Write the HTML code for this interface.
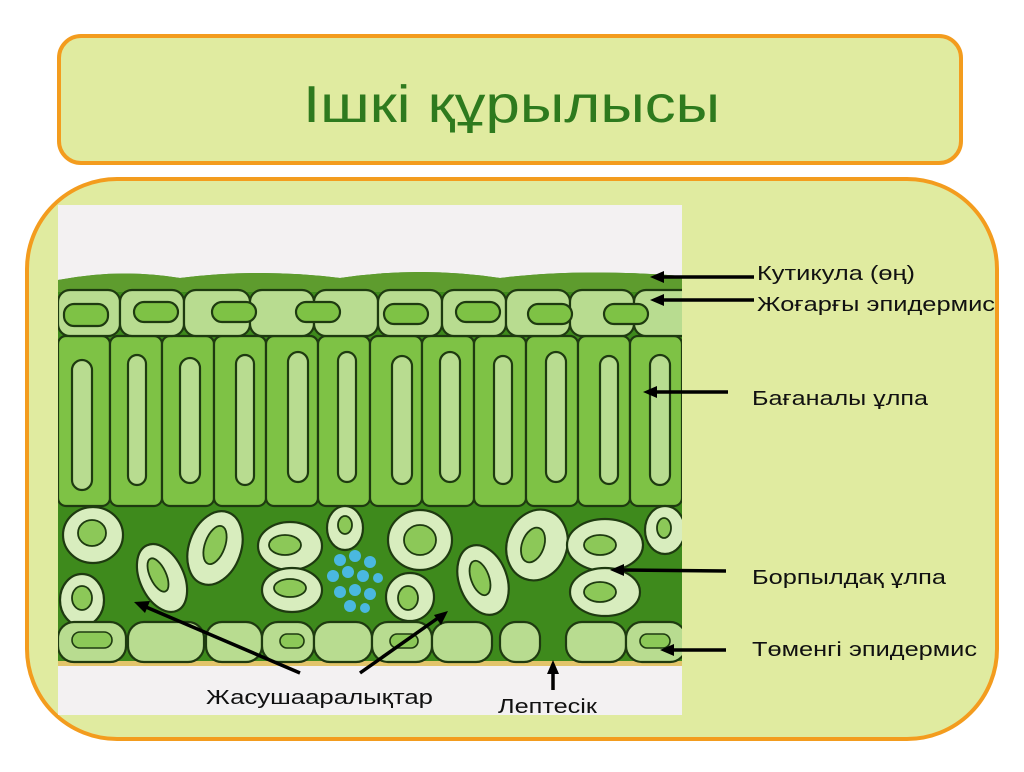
<!DOCTYPE html>
<html><head><meta charset="utf-8"><style>
body{margin:0;background:#fff;width:1024px;height:767px;overflow:hidden}
text{font-family:"Liberation Sans",sans-serif}
</style></head><body>
<svg width="1024" height="767" viewBox="0 0 1024 767" xmlns="http://www.w3.org/2000/svg">
<rect x="0" y="0" width="1024" height="767" fill="#fff"/>
<rect x="59" y="36" width="902" height="127" rx="22" fill="#e0eba0" stroke="#f39c1e" stroke-width="4"/>
<text x="303" y="122" font-size="52" fill="#2e7a1e" textLength="417" lengthAdjust="spacingAndGlyphs">Ішкі құрылысы</text>
<rect x="27" y="179" width="970" height="560" rx="90" fill="#e0eba0" stroke="#f39c1e" stroke-width="4"/>
<rect x="58" y="205" width="624" height="510" fill="#f3f1f2"/>
<clipPath id="c"><rect x="58" y="205" width="624" height="510"/></clipPath>
<g clip-path="url(#c)" stroke="#1e3a10" stroke-width="2.2">
<path d="M58 280 Q120 268 180 278 Q260 268 340 278 Q420 266 500 278 Q580 268 682 276 L682 664 L58 664 Z" fill="#3e8a1c" stroke="none"/>
<rect x="58" y="661" width="624" height="5" fill="#e2c46a" stroke="none"/>
<path d="M58 280 Q120 268 180 278 Q260 268 340 278 Q420 266 500 278 Q580 268 682 276 L682 292 L58 292 Z" fill="#5e9c2e" stroke="none"/>
<g fill="#7ec245">
<rect x="58" y="336" width="52" height="170" rx="8"/><rect x="110" y="336" width="52" height="170" rx="8"/><rect x="162" y="336" width="52" height="170" rx="8"/><rect x="214" y="336" width="52" height="170" rx="8"/><rect x="266" y="336" width="52" height="170" rx="8"/><rect x="318" y="336" width="52" height="170" rx="8"/><rect x="370" y="336" width="52" height="170" rx="8"/><rect x="422" y="336" width="52" height="170" rx="8"/><rect x="474" y="336" width="52" height="170" rx="8"/><rect x="526" y="336" width="52" height="170" rx="8"/><rect x="578" y="336" width="52" height="170" rx="8"/><rect x="630" y="336" width="52" height="170" rx="8"/>
</g>
<g fill="#b8dc90">
<rect x="72" y="360" width="20" height="130" rx="10"/><rect x="128" y="355" width="18" height="130" rx="9"/><rect x="180" y="358" width="20" height="125" rx="10"/><rect x="236" y="355" width="18" height="130" rx="9"/><rect x="288" y="352" width="20" height="130" rx="10"/><rect x="338" y="352" width="18" height="130" rx="9"/><rect x="392" y="356" width="20" height="128" rx="10"/><rect x="440" y="352" width="20" height="130" rx="10"/><rect x="494" y="356" width="18" height="128" rx="9"/><rect x="546" y="352" width="20" height="130" rx="10"/><rect x="600" y="356" width="18" height="128" rx="9"/><rect x="650" y="355" width="20" height="130" rx="10"/>
</g>
<g fill="#b8dc90">
<rect x="58" y="290" width="62" height="46" rx="12"/><rect x="120" y="290" width="64" height="46" rx="12"/><rect x="184" y="290" width="66" height="46" rx="12"/><rect x="250" y="290" width="64" height="46" rx="12"/><rect x="314" y="290" width="64" height="46" rx="12"/><rect x="378" y="290" width="64" height="46" rx="12"/><rect x="442" y="290" width="64" height="46" rx="12"/><rect x="506" y="290" width="64" height="46" rx="12"/><rect x="570" y="290" width="64" height="46" rx="12"/><rect x="634" y="290" width="60" height="46" rx="12"/>
</g>
<g fill="#7ec245">
<rect x="64" y="304" width="44" height="22" rx="10"/><rect x="134" y="302" width="44" height="20" rx="10"/><rect x="212" y="302" width="44" height="20" rx="10"/><rect x="296" y="302" width="44" height="20" rx="10"/><rect x="384" y="304" width="44" height="20" rx="10"/><rect x="456" y="302" width="44" height="20" rx="10"/><rect x="528" y="304" width="44" height="20" rx="10"/><rect x="604" y="304" width="44" height="20" rx="10"/>
</g>
<g fill="#d8edbe">
<ellipse cx="93" cy="535" rx="30" ry="28"/><ellipse cx="82" cy="600" rx="22" ry="26"/><ellipse cx="162" cy="578" rx="22" ry="36" transform="rotate(-25 162 578)"/><ellipse cx="215" cy="548" rx="26" ry="38" transform="rotate(20 215 548)"/><ellipse cx="290" cy="546" rx="32" ry="24"/><ellipse cx="292" cy="590" rx="30" ry="22"/><ellipse cx="345" cy="528" rx="18" ry="22"/><ellipse cx="420" cy="540" rx="32" ry="30"/><ellipse cx="410" cy="597" rx="24" ry="24"/><ellipse cx="483" cy="580" rx="24" ry="36" transform="rotate(-20 483 580)"/><ellipse cx="537" cy="545" rx="30" ry="36" transform="rotate(20 537 545)"/><ellipse cx="605" cy="545" rx="38" ry="26"/><ellipse cx="605" cy="592" rx="35" ry="24"/><ellipse cx="665" cy="530" rx="20" ry="24"/>
</g>
<g fill="#8cc858" stroke-width="1.8">
<ellipse cx="92" cy="533" rx="14" ry="13"/><ellipse cx="82" cy="598" rx="10" ry="12"/><ellipse cx="158" cy="575" rx="8" ry="18" transform="rotate(-25 158 575)"/><ellipse cx="215" cy="545" rx="10" ry="20" transform="rotate(20 215 545)"/><ellipse cx="285" cy="545" rx="16" ry="10"/><ellipse cx="290" cy="588" rx="16" ry="9"/><ellipse cx="345" cy="525" rx="7" ry="9"/><ellipse cx="420" cy="540" rx="16" ry="15"/><ellipse cx="408" cy="598" rx="10" ry="12"/><ellipse cx="480" cy="578" rx="9" ry="18" transform="rotate(-20 480 578)"/><ellipse cx="533" cy="545" rx="11" ry="18" transform="rotate(20 533 545)"/><ellipse cx="600" cy="545" rx="16" ry="10"/><ellipse cx="600" cy="592" rx="16" ry="10"/><ellipse cx="664" cy="528" rx="7" ry="10"/>
</g>
<g fill="#4ab8e0" stroke="none">
<circle cx="340" cy="560" r="6"/><circle cx="355" cy="556" r="6"/><circle cx="370" cy="562" r="6"/><circle cx="333" cy="576" r="6"/><circle cx="348" cy="572" r="6"/><circle cx="363" cy="576" r="6"/><circle cx="378" cy="578" r="5"/><circle cx="340" cy="592" r="6"/><circle cx="355" cy="590" r="6"/><circle cx="370" cy="594" r="6"/><circle cx="350" cy="606" r="6"/><circle cx="365" cy="608" r="5"/>
</g>
<g fill="#b8dc90">
<rect x="58" y="622" width="68" height="40" rx="16"/><rect x="128" y="622" width="76" height="40" rx="16"/><rect x="206" y="622" width="56" height="40" rx="16"/><rect x="262" y="622" width="52" height="40" rx="16"/><rect x="314" y="622" width="58" height="40" rx="16"/><rect x="372" y="622" width="60" height="40" rx="16"/><rect x="432" y="622" width="60" height="40" rx="16"/><rect x="500" y="622" width="40" height="40" rx="16"/><rect x="566" y="622" width="60" height="40" rx="16"/><rect x="626" y="622" width="60" height="40" rx="16"/>
</g>
<g fill="#8cc858" stroke-width="1.6">
<rect x="72" y="632" width="40" height="16" rx="8"/><rect x="280" y="634" width="24" height="14" rx="7"/><rect x="390" y="634" width="28" height="14" rx="7"/><rect x="640" y="634" width="30" height="14" rx="7"/>
</g>
</g>
<g stroke="#000" stroke-width="3.5" fill="#000">
<line x1="754" y1="277" x2="662" y2="277"/><polygon points="650,277 664,271 664,283" stroke="none"/>
<line x1="754" y1="300" x2="662" y2="300"/><polygon points="650,300 664,294 664,306" stroke="none"/>
<line x1="728" y1="392" x2="655" y2="392"/><polygon points="643,392 657,386 657,398" stroke="none"/>
<line x1="726" y1="571" x2="622" y2="570"/><polygon points="610,570 624,564 624,576" stroke="none"/>
<line x1="726" y1="650" x2="672" y2="650"/><polygon points="660,650 674,644 674,656" stroke="none"/>
<line x1="300" y1="673" x2="146" y2="607"/><polygon points="134,602 150,601 145,613" stroke="none"/>
<line x1="360" y1="673" x2="438" y2="618"/><polygon points="448,611 441,625 434,615" stroke="none"/>
<line x1="553" y1="690" x2="553" y2="672"/><polygon points="553,660 547,674 559,674" stroke="none"/>
</g>
<g font-size="20" fill="#111" lengthAdjust="spacingAndGlyphs">
<text x="757" y="280" textLength="158" lengthAdjust="spacingAndGlyphs">Кутикула (өң)</text>
<text x="757" y="311" textLength="238" lengthAdjust="spacingAndGlyphs">Жоғарғы эпидермис</text>
<text x="752" y="405" textLength="176" lengthAdjust="spacingAndGlyphs">Бағаналы ұлпа</text>
<text x="752" y="584" textLength="194" lengthAdjust="spacingAndGlyphs">Борпылдақ ұлпа</text>
<text x="752" y="656" textLength="225" lengthAdjust="spacingAndGlyphs">Төменгі эпидермис</text>
<text x="206" y="704" textLength="227" lengthAdjust="spacingAndGlyphs">Жасушааралықтар</text>
<text x="498" y="713" textLength="99" lengthAdjust="spacingAndGlyphs">Лептесік</text>
</g>
</svg>
</body></html>
